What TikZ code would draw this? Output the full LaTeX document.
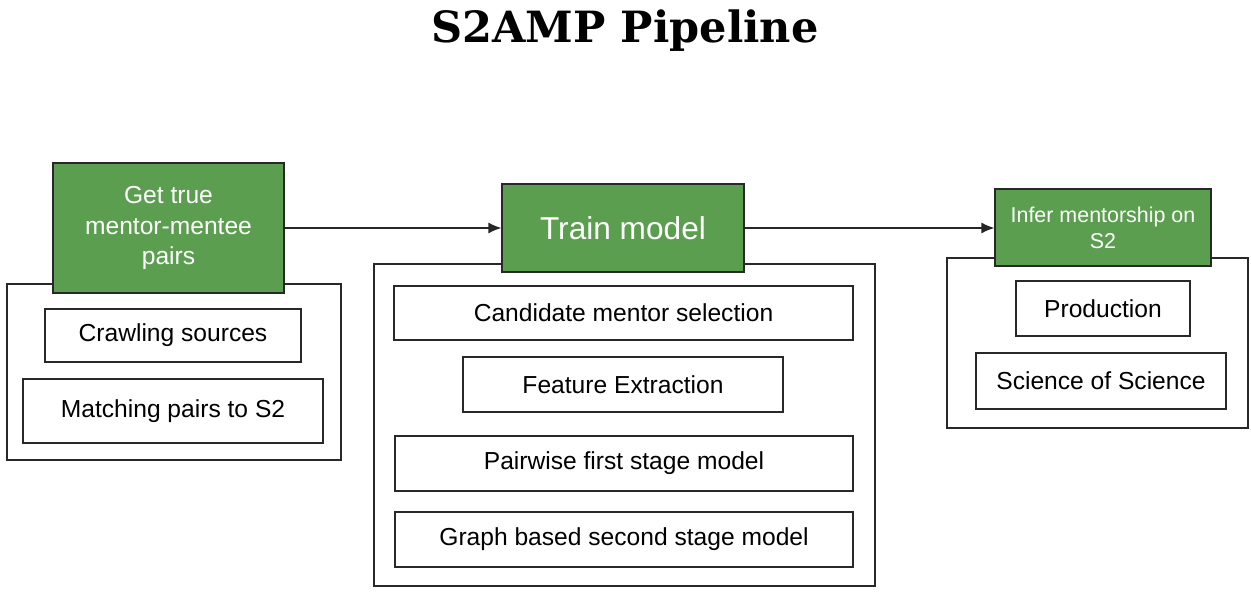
\documentclass[tikz,border=0pt]{standalone}
\usepackage{fontspec}
\setmainfont{Liberation Sans}
\newfontfamily\titlefont{DejaVu Serif}
\usetikzlibrary{arrows.meta}

\definecolor{stagegreen}{RGB}{92,158,80}
\definecolor{boxline}{RGB}{40,40,40}

\tikzset{
  groupbox/.style={draw=boxline, line width=0.6pt, fill=white, inner sep=0pt},
  stagebox/.style={draw=boxline, line width=0.6pt, fill=stagegreen, text=white,
    align=center, inner sep=2pt},
  itembox/.style={draw=boxline, line width=0.6pt, fill=white, inner sep=0pt,
    font=\fontsize{14}{17}\selectfont},
  flow/.style={draw=black!85, line width=0.85pt, -{Latex[length=0.26cm,width=0.22cm]}}
}

\begin{document}
\begin{tikzpicture}
  \useasboundingbox (0,0) rectangle (25.02,-11.9);

  % Title
  \node[anchor=base, font=\titlefont\bfseries\fontsize{24.5}{29}\selectfont] (title)
    at (12.5,-0.86) {S2AMP Pipeline};

  % Stage 1: ground truth pairs
  \node[groupbox, minimum width=6.68cm, minimum height=3.52cm] (leftgroup) at (3.48,-7.44) {};
  \node[stagebox, minimum width=4.62cm, minimum height=2.60cm,
        font=\fontsize{14}{17.6}\selectfont] (getpairs) at (3.37,-4.56)
    {Get true\\mentor-mentee\\pairs};
  \node[itembox, minimum width=5.12cm, minimum height=1.06cm] (crawl) at (3.46,-6.71) {Crawling sources};
  \node[itembox, minimum width=6.00cm, minimum height=1.28cm] (match) at (3.46,-8.22) {Matching pairs to S2};

  % Stage 2: training
  \node[groupbox, minimum width=10.02cm, minimum height=6.44cm] (midgroup) at (12.49,-8.50) {};
  \node[stagebox, minimum width=4.84cm, minimum height=1.76cm,
        font=\fontsize{18}{22}\selectfont] (train) at (12.46,-4.56) {Train model};
  \node[itembox, minimum width=9.18cm, minimum height=1.08cm] (candidate) at (12.47,-6.26) {Candidate mentor selection};
  \node[itembox, minimum width=6.40cm, minimum height=1.10cm] (features) at (12.46,-7.69) {Feature Extraction};
  \node[itembox, minimum width=9.16cm, minimum height=1.10cm] (firststage) at (12.48,-9.27) {Pairwise first stage model};
  \node[itembox, minimum width=9.16cm, minimum height=1.10cm] (secondstage) at (12.48,-10.79) {Graph based second stage model};

  % Stage 3: inference
  \node[groupbox, minimum width=6.02cm, minimum height=3.40cm] (rightgroup) at (21.95,-6.86) {};
  \node[stagebox, minimum width=4.32cm, minimum height=1.54cm,
        font=\fontsize{12.2}{14.7}\selectfont] (infer) at (22.06,-4.55)
    {Infer mentorship on\\S2};
  \node[itembox, minimum width=3.48cm, minimum height=1.10cm] (production) at (22.06,-6.17) {Production};
  \node[itembox, minimum width=5.00cm, minimum height=1.12cm] (scisci) at (22.02,-7.62) {Science of Science};

  % Arrows
  \draw[flow] (getpairs.east |- train.west) -- (train.west);
  \draw[flow] (train.east) -- (infer.west |- train.east);
\end{tikzpicture}
\end{document}
